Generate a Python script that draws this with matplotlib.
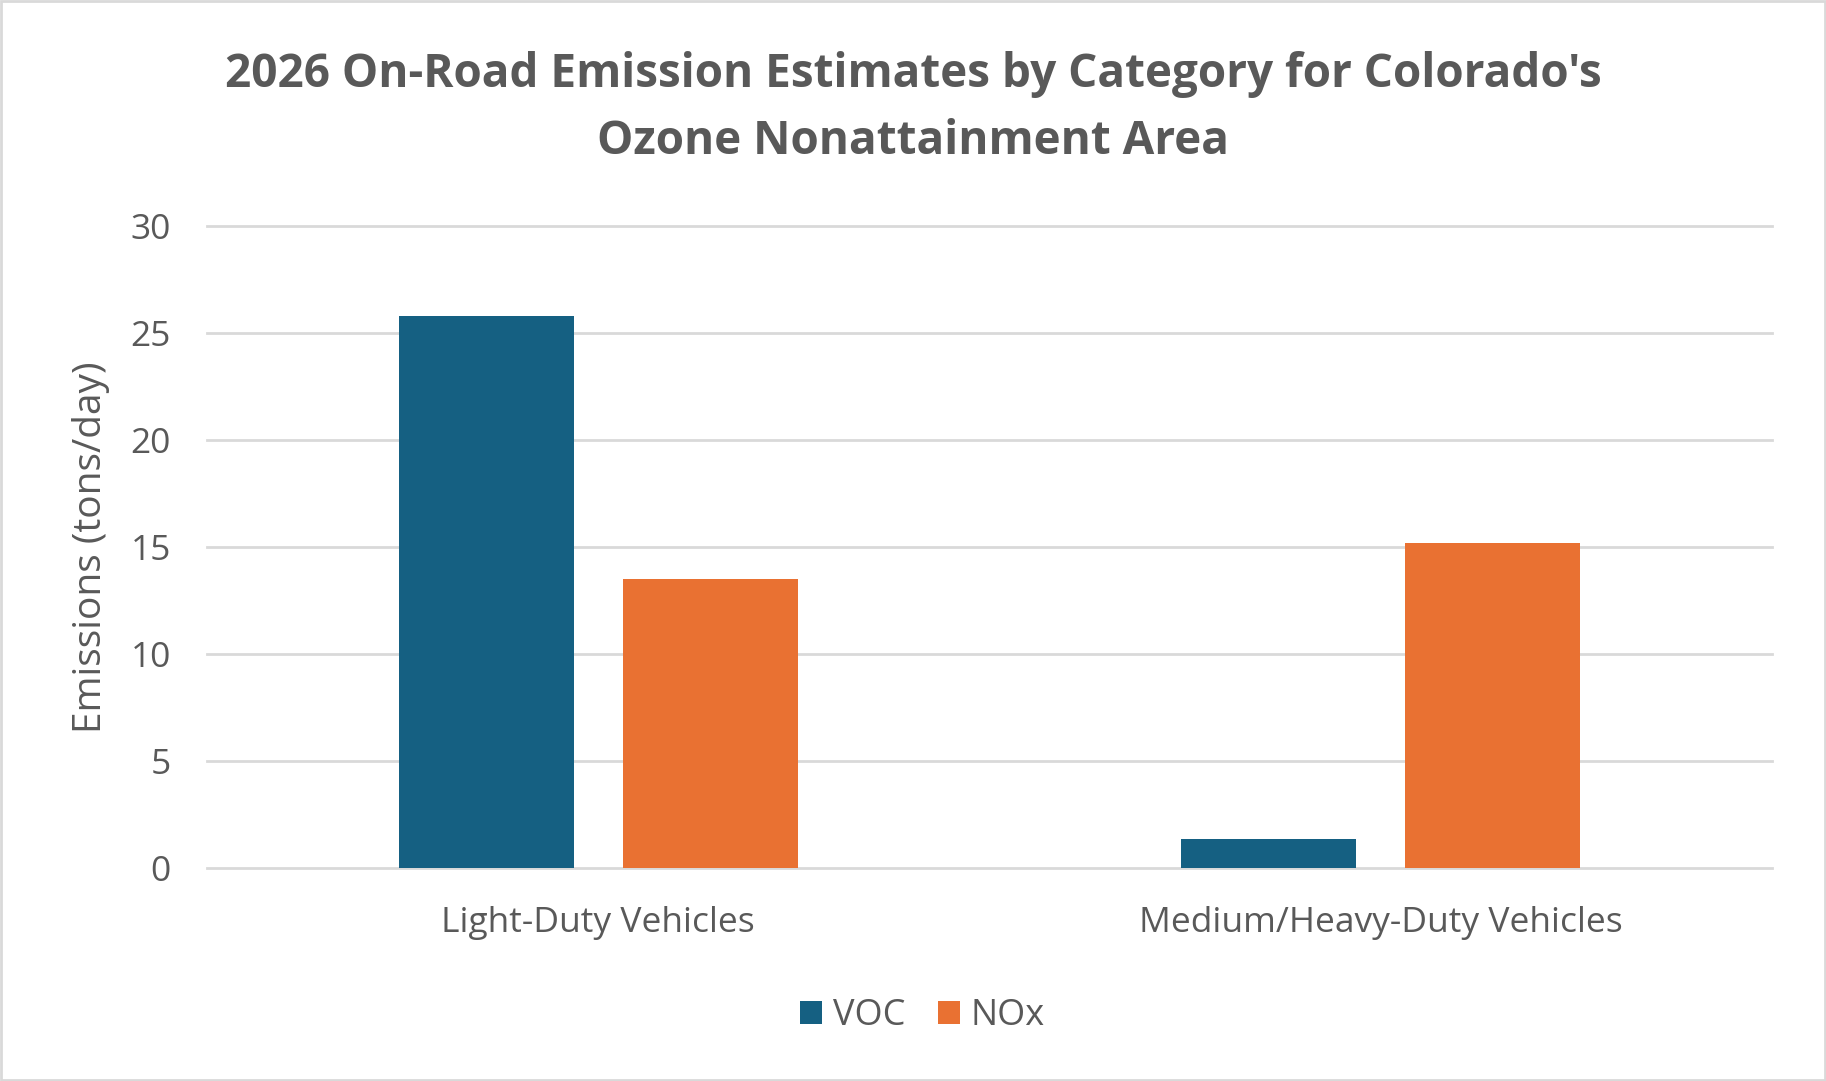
import matplotlib
matplotlib.use("Agg")
import matplotlib.pyplot as plt
from matplotlib.patches import Rectangle
import numpy as np

# data
categories = ["Light-Duty Vehicles", "Medium/Heavy-Duty Vehicles"]
series_names = ["VOC", "NOx"]
voc = [25.8, 1.36]
nox = [13.5, 15.2]
yticks = [0, 5, 10, 15, 20, 25, 30]

colors = {"VOC": "#156082", "NOx": "#E97132"}
text_gray = "#595959"
grid_gray = "#D9D9D9"

plt.rcParams["font.family"] = ["Open Sans", "DejaVu Sans"]

fig = plt.figure(figsize=(18.26, 10.81), dpi=100)
ax = fig.add_axes([207 / 1826, 213 / 1081, (1772 - 207) / 1826, (868 - 226) / 1081])

x = np.arange(len(categories))
w = 0.224
off = 0.143
ax.bar(x - off, voc, w, color=colors["VOC"], label="VOC", zorder=3)
ax.bar(x + off, nox, w, color=colors["NOx"], label="NOx", zorder=3)

ax.set_xlim(-0.5, 1.5)
ax.set_ylim(0, 30)
ax.set_yticks(yticks)
ax.set_xticks(x)
ax.set_xticklabels(categories)
ax.grid(axis="y", color=grid_gray, linewidth=2, zorder=0)
ax.set_axisbelow(True)
for s in ax.spines.values():
    s.set_visible(False)
for gl in ax.get_ygridlines():
    gl.set_clip_on(False)
ax.tick_params(axis="both", length=0, labelcolor=text_gray, labelsize=25.5)
ax.tick_params(axis="y", pad=26)
ax.tick_params(axis="x", pad=27)

ax.set_ylabel("Emissions (tons/day)", fontsize=28, color=text_gray)
ax.yaxis.set_label_coords(-0.062, 0.5)

fig.text(0.5, 1 - 74 / 1081, "2026 On-Road Emission Estimates by Category for Colorado's",
         ha="center", va="center", fontsize=33, fontweight="bold", color=text_gray)
fig.text(0.5, 1 - 141 / 1081, "Ozone Nonattainment Area",
         ha="center", va="center", fontsize=33, fontweight="bold", color=text_gray)

fig.legend(loc="center", bbox_to_anchor=(0.505, 1 - 1016 / 1081), ncol=2, frameon=False,
           fontsize=26, labelcolor=text_gray, handlelength=0.61, handleheight=0.61,
           handletextpad=0.29, columnspacing=0.9)

fig.patches.append(Rectangle((0.0005, 0.0008), 0.999, 0.9985, transform=fig.transFigure,
                             fill=False, edgecolor=grid_gray, linewidth=2))

fig.savefig("out.png", dpi=100, facecolor="white")
